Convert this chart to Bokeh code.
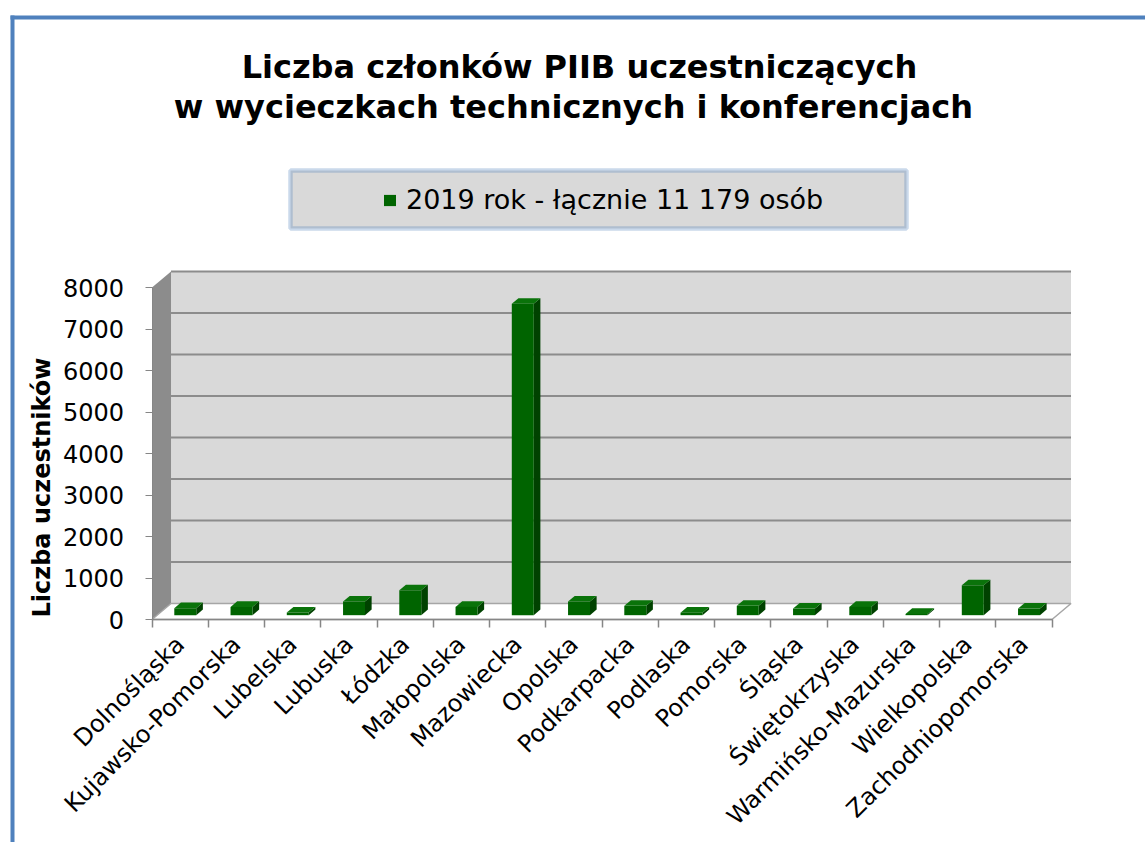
import math
from bokeh.plotting import figure
from bokeh.models import Range1d, FixedTicker, BoxAnnotation, Label
from bokeh.embed import file_html
from bokeh.resources import INLINE

# ---------------- data ----------------
categories = ["Dolnośląska", "Kujawsko-Pomorska", "Lubelska", "Lubuska", "Łódzka",
              "Małopolska", "Mazowiecka", "Opolska", "Podkarpacka", "Podlaska",
              "Pomorska", "Śląska", "Świętokrzyska", "Warmińsko-Mazurska",
              "Wielkopolska", "Zachodniopomorska"]
values = [170, 200, 65, 330, 600, 200, 7504, 330, 225, 60, 225, 160, 200, 30, 720, 160]
y_ticks = [0, 1000, 2000, 3000, 4000, 5000, 6000, 7000, 8000]
series_label = "2019 rok - łącznie 11 179 osób"
title_line1 = "Liczba członków PIIB uczestniczących"
title_line2 = "w wycieczkach technicznych  i konferencjach"
y_title = "Liczba uczestników"

# ---------------- style / layout ----------------
W, H = 1145, 842
FONT = "DejaVu Sans"
BLUE = "#4F81BD"
AXIS_GRAY = "#868686"
n = len(categories)
X0_PX, CAT_PX = 151.5, 56.25      # pixel of first category boundary, px per category
Y0_PX, VAL_PX = 619.0, 0.0415     # pixel of value 0, px per unit of value
DX, DY = 0.338, 385.0             # oblique depth (category units, value units)
F1, F2 = 0.27, 0.62               # bar front / back depth fractions
BW = 0.39                         # bar width (category units)
YMAX = y_ticks[-1]


def px_x(px):
    return (px - X0_PX) / CAT_PX


def px_y(py):
    return (Y0_PX - py) / VAL_PX


p = figure(width=W, height=H, output_backend="svg", toolbar_location=None,
           x_range=Range1d(px_x(0), px_x(W)), y_range=Range1d(px_y(H), px_y(0)),
           min_border_left=0, min_border_right=0, min_border_top=0,
           min_border_bottom=0, background_fill_color="white",
           border_fill_color="white", outline_line_color=None)
p.grid.visible = False

# outer chart border (top and left edges visible in this crop)
p.add_layout(BoxAnnotation(left=px_x(10), right=px_x(14), top=px_y(15), bottom=px_y(H + 5),
                           fill_color=BLUE, fill_alpha=1, line_color=None, level="underlay"))
p.add_layout(BoxAnnotation(left=px_x(10), right=px_x(W + 5), top=px_y(15), bottom=px_y(19),
                           fill_color=BLUE, fill_alpha=1, line_color=None, level="underlay"))
# legend frame
p.add_layout(BoxAnnotation(left=px_x(290), right=px_x(906), top=px_y(170), bottom=px_y(228),
                           fill_color="#D9D9D9", fill_alpha=1, line_color=BLUE,
                           line_width=4.5, level="underlay"))

# title
for txt, cx, by in ((title_line1, 579, 66), (title_line2, 578.5, 106)):
    p.add_layout(Label(x=px_x(cx), y=px_y(by), text=txt,
                       text_align="center", text_baseline="alphabetic",
                       text_font=FONT, text_font_style="bold", text_font_size="32px",
                       text_color="black"))

# y-axis title
p.add_layout(Label(x=px_x(41), y=px_y(487), text=y_title, angle=math.pi / 2,
                   text_align="center", text_baseline="alphabetic",
                   text_font=FONT, text_font_style="bold", text_font_size="24px",
                   text_color="black"))

# back wall, gridlines, side wall, floor
p.quad(left=DX, right=n + DX, bottom=DY, top=YMAX + DY, fill_color="#D9D9D9", line_color=None)
gy = [t + DY for t in y_ticks[1:]]
p.segment(x0=[DX] * len(gy), x1=[n + DX] * len(gy), y0=gy, y1=gy,
          line_color="#8C8C8C", line_width=2)
p.patch([0, 0, DX, DX], [0, YMAX, YMAX + DY, DY], fill_color="#8C8C8C", line_color=None)
p.patch([0, n, n + DX, DX], [0, 0, DY, DY], fill_color="white",
        line_color="#A6A6A6", line_width=1.5)

# bars
dd = (F2 - F1) * DX
dh = (F2 - F1) * DY
x0 = [i + 0.5 - BW / 2 + F1 * DX for i in range(n)]
x1 = [a + BW for a in x0]
yb = [F1 * DY] * n
yt = [v + F1 * DY for v in values]
side_xs = [[b, b + dd, b + dd, b] for b in x1]
side_ys = [[lo, lo + dh, hi + dh, hi] for lo, hi in zip(yb, yt)]
top_xs = [[a, b, b + dd, a + dd] for a, b in zip(x0, x1)]
top_ys = [[hi, hi, hi + dh, hi + dh] for hi in yt]
p.patches(side_xs, side_ys, fill_color="#004200", line_color=None)
p.patches(top_xs, top_ys, fill_color="#0A730A", line_color=None)
p.quad(left=x0, right=x1, bottom=yb, top=yt, fill_color="#006400", line_color=None,
       legend_label=series_label)

# legend
lg = p.legend[0]
lg.location = (382, H - 215)
lg.border_line_color = None
lg.background_fill_alpha = 0
lg.padding = 0
lg.margin = 0
lg.glyph_width = 15
lg.glyph_height = 14
lg.label_standoff = 9
lg.label_text_font = FONT
lg.label_text_font_size = "27px"
lg.label_text_color = "black"

# y axis (placed at the front edge of the chart)
ya = p.yaxis[0]
ya.fixed_location = 0
ya.ticker = FixedTicker(ticks=y_ticks)
ya.bounds = (0, YMAX)
ya.axis_line_color = AXIS_GRAY
ya.major_tick_line_color = AXIS_GRAY
ya.major_tick_out = 7
ya.major_tick_in = 0
ya.minor_tick_line_color = None
ya.major_label_text_font = FONT
ya.major_label_text_font_size = "24px"
ya.major_label_text_color = "black"
ya.major_label_standoff = 21

# x axis
centers = [i + 0.5 for i in range(n)]
xa = p.xaxis[0]
xa.fixed_location = 0
xa.ticker = FixedTicker(ticks=centers, minor_ticks=list(range(n + 1)))
xa.major_label_overrides = {c: name for c, name in zip(centers, categories)}
xa.bounds = (0, n)
xa.axis_line_color = AXIS_GRAY
xa.axis_line_width = 1.5
xa.major_tick_line_color = None
xa.major_tick_out = 8
xa.major_tick_in = 0
xa.minor_tick_line_color = AXIS_GRAY
xa.minor_tick_line_width = 1.5
xa.minor_tick_out = 8
xa.minor_tick_in = 0
xa.major_label_orientation = math.pi / 4
xa.major_label_text_font = FONT
xa.major_label_text_font_size = "24px"
xa.major_label_text_color = "black"
xa.major_label_standoff = 13

open("out.html", "w").write(file_html(p, INLINE))
